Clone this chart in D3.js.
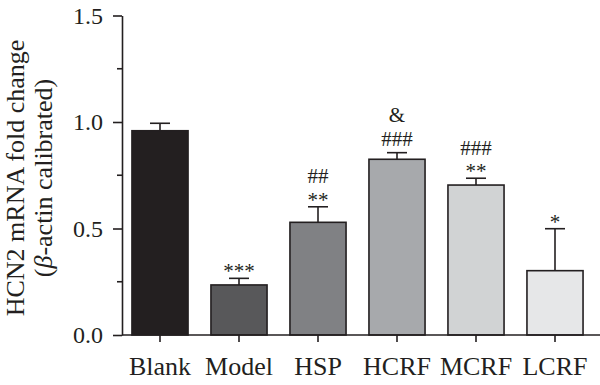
<!DOCTYPE html>
<html>
<head>
<meta charset="utf-8">
<script src="https://cdn.jsdelivr.net/npm/d3@7"></script>
<style>
  body { margin: 0; background: #fff; }
  svg text { font-family: "Liberation Serif", "DejaVu Serif", serif; fill: #231f20; }
</style>
</head>
<body>
<div id="chart"></div>
<script>
const groups = ["Blank", "Model", "HSP", "HCRF", "MCRF", "LCRF"];
const means = [0.959, 0.235, 0.529, 0.825, 0.704, 0.302];
const errors = [0.035, 0.031, 0.073, 0.031, 0.032, 0.197];
const marks = [[], ["***"], ["**", "##"], ["###", "&"], ["**", "###"], ["*"]];
const fills = ["#231f20", "#58585a", "#808184", "#a7a9ac", "#d1d3d4", "#e6e7e8"];
const yTicks = [0, 0.5, 1.0, 1.5];
const yMinorTicks = [0.25, 0.75, 1.25];

function createBarChart(selector) {
    const width = 600;
    const height = 385;
    const axisX = 122;
    const axisY = 335;
    const ink = "#231f20";

    d3.select(selector).selectAll("*").remove();

    const svg = d3.select(selector).append("svg")
        .attr("width", width)
        .attr("height", height);

    const x = d3.scaleBand()
        .domain(groups)
        .range([120.5, 594.5])
        .paddingInner(0.29)
        .paddingOuter(0.145);

    const y = d3.scaleLinear()
        .domain([0, 1.5])
        .range([axisY, 15.5]);

    const data = groups.map((g, i) => ({ g, v: means[i], e: errors[i], m: marks[i], c: fills[i] }));

    // bars
    svg.selectAll("rect.bar")
        .data(data)
        .enter().append("rect")
        .attr("class", "bar")
        .attr("x", d => x(d.g))
        .attr("y", d => y(d.v))
        .attr("width", x.bandwidth())
        .attr("height", d => axisY - y(d.v))
        .attr("fill", d => d.c)
        .attr("stroke", ink)
        .attr("stroke-width", 1.6);

    // error bars (upper only)
    const eb = svg.selectAll("g.err")
        .data(data)
        .enter().append("g")
        .attr("class", "err")
        .attr("stroke", ink)
        .attr("stroke-width", 1.6);

    eb.append("line")
        .attr("x1", d => x(d.g) + x.bandwidth() / 2)
        .attr("x2", d => x(d.g) + x.bandwidth() / 2)
        .attr("y1", d => y(d.v))
        .attr("y2", d => y(d.v + d.e));

    eb.append("line")
        .attr("x1", d => x(d.g) + x.bandwidth() / 2 - 10)
        .attr("x2", d => x(d.g) + x.bandwidth() / 2 + 10)
        .attr("y1", d => y(d.v + d.e))
        .attr("y2", d => y(d.v + d.e));

    // significance marks, stacked upward
    data.filter(d => d.m.length).forEach(d => {
        const cx = x(d.g) + x.bandwidth() / 2;
        const base = y(d.v + d.e) - (d.m[0][0] === "*" ? 0 : 7);
        const t = svg.append("text")
            .attr("text-anchor", "middle")
            .style("font-size", "21px");
        d.m.forEach((s, k) => {
            t.append("tspan")
                .attr("x", cx)
                .attr("y", base - k * 23.5)
                .text(s);
        });
    });

    // y axis
    const yAxis = svg.append("g")
        .attr("transform", `translate(${axisX},0)`)
        .call(d3.axisLeft(y).tickValues(yTicks).tickSize(9).tickSizeOuter(0)
            .tickPadding(10).tickFormat(d3.format(".1f")));
    yAxis.selectAll("text").style("font-size", "24px").attr("fill", ink);
    yAxis.selectAll("line, path").attr("stroke", ink).attr("stroke-width", 1.6);

    svg.append("g")
        .attr("transform", `translate(${axisX},0)`)
        .selectAll("line")
        .data(yMinorTicks)
        .enter().append("line")
        .attr("x1", -5).attr("x2", 0)
        .attr("y1", d => y(d)).attr("y2", d => y(d))
        .attr("stroke", ink).attr("stroke-width", 1.6);

    // x axis
    const xAxis = svg.append("g")
        .attr("transform", `translate(0,${axisY})`)
        .call(d3.axisBottom(x).tickSize(7).tickSizeOuter(0).tickPadding(15));
    xAxis.select(".domain").remove();
    xAxis.selectAll("text").style("font-size", "26px").attr("fill", ink);
    xAxis.selectAll("line").attr("stroke", ink).attr("stroke-width", 1.6);

    svg.append("line")
        .attr("x1", axisX).attr("x2", width)
        .attr("y1", axisY).attr("y2", axisY)
        .attr("stroke", ink).attr("stroke-width", 1.6);

    // y axis title
    const title = svg.append("text")
        .attr("transform", "translate(24,178) rotate(-90)")
        .attr("text-anchor", "middle")
        .style("font-size", "26px");
    title.append("tspan")
        .attr("x", 0).attr("y", 0)
        .text("HCN2 mRNA fold change");
    const t2 = title.append("tspan")
        .attr("x", 0).attr("y", 28);
    t2.append("tspan").text("(");
    t2.append("tspan").style("font-style", "italic").text("β");
    t2.append("tspan").text("-actin calibrated)");
}

createBarChart("#chart");
</script>
</body>
</html>
